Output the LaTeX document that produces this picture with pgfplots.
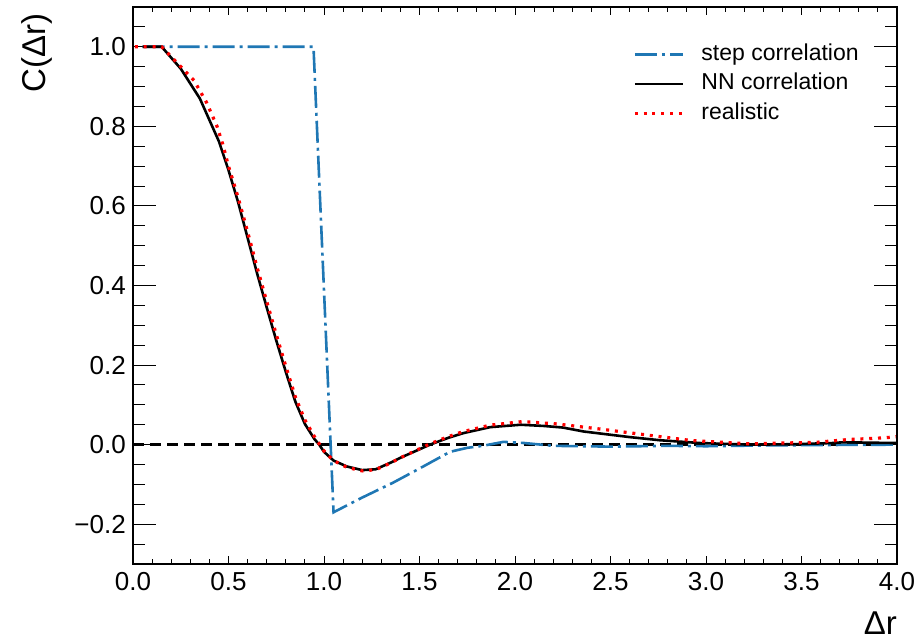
\documentclass[border=0pt]{standalone}
\usepackage{pgfplots}
\pgfplotsset{compat=1.18}
\usepackage{fontspec}
\setmainfont{Liberation Sans}
\definecolor{stepblue}{RGB}{31,119,180}
\begin{document}
\begin{tikzpicture}
\useasboundingbox (0,0) rectangle (921pt,642pt);
% axis holding data, y ticks, labels, legend
\begin{axis}[
  at={(133pt,78pt)}, anchor=south west,
  scale only axis, width=764pt, height=557pt,
  xmin=0, xmax=4, ymin=-0.3, ymax=1.1,
  axis line style={line width=1.4pt},
  tick align=inside,
  tick style={black, line width=1pt},
  xtick=\empty,
  ytick={-0.2,0,0.2,0.4,0.6,0.8,1.0},
  yticklabels={−0.2,0.0,0.2,0.4,0.6,0.8,1.0},
  minor ytick={-0.25,-0.15,-0.1,-0.05,0.05,0.1,0.15,0.25,0.3,0.35,0.45,0.5,0.55,0.65,0.7,0.75,0.85,0.9,0.95,1.05},
  ytick pos=both, yticklabel pos=left,
  major tick length=23pt, minor tick length=12pt,
  yticklabel style={font=\fontsize{26}{30}\selectfont, inner sep=0pt, xshift=-7pt},
  xlabel={Δr}, ylabel={C(Δr)},
  xlabel style={font=\fontsize{33}{38}\selectfont, at={(axis description cs:1,-0.127)}, anchor=base east, inner sep=0pt},
  ylabel style={font=\fontsize{33}{38}\selectfont, at={(axis description cs:-0.1257,0.988)}, anchor=east, inner sep=0pt, rotate=0},
  legend image code/.code={\draw[#1] (0pt,0pt) -- (48pt,0pt);},
  legend cell align=left,
  legend style={at={(axis description cs:0.6545,0.935)}, anchor=north west, draw=none, fill=none,
    font=\fontsize{23}{27}\selectfont, inner sep=0pt, row sep=7.5pt, column sep=17pt,
    nodes={inner sep=0pt, text height=17pt, text depth=5pt}},
]
\addplot[black, line width=2.6pt, dash pattern=on 11pt off 6pt, forget plot] coordinates {(0,0) (4,0)};
\addplot[stepblue, line width=2.6pt, dash pattern=on 22pt off 5pt on 3pt off 5pt] coordinates {
(0.05,1.0) (0.945,1.0) (1.05,-0.17) (1.2,-0.133) (1.36,-0.096) (1.5,-0.06) (1.66,-0.018) (1.75,-0.008) (1.83,-0.003) (1.94,0.007) (2.05,0.004) (2.2,-0.003) (2.5,-0.005) (2.8,-0.003) (3.0,-0.004) (3.3,-0.002) (3.6,-0.001) (4.0,0.0)
};
\addlegendentry{step correlation}
\addplot[black, line width=2.6pt] coordinates {
(0.05,1.0) (0.15,1.0) (0.25,0.945) (0.35,0.87) (0.45,0.762) (0.5,0.69) (0.55,0.61) (0.6,0.52) (0.65,0.43) (0.7,0.345) (0.75,0.262) (0.8,0.183) (0.85,0.108) (0.9,0.052) (0.95,0.014) (0.975,0.0) (1.0,-0.018) (1.05,-0.04) (1.12,-0.055) (1.2,-0.064) (1.27,-0.062) (1.35,-0.045) (1.4,-0.033) (1.48,-0.016) (1.555,0.0) (1.65,0.017) (1.73,0.029) (1.87,0.044) (2.03,0.050) (2.15,0.047) (2.25,0.043) (2.36,0.033) (2.48,0.026) (2.6,0.019) (2.76,0.011) (2.97,0.004) (3.23,0.0) (3.45,0.001) (3.66,0.004) (3.72,0.006) (3.85,0.005) (4.0,0.004)
};
\addlegendentry{NN correlation}
\addplot[red, line width=3.2pt, dash pattern=on 3pt off 5.8pt] coordinates {
(0.01,1.0) (0.15,1.0) (0.23,0.96) (0.32,0.915) (0.385,0.86) (0.44,0.80) (0.47,0.755) (0.5,0.70) (0.55,0.622) (0.6,0.535) (0.65,0.445) (0.7,0.36) (0.75,0.277) (0.8,0.197) (0.85,0.12) (0.9,0.062) (0.95,0.02) (1.0,-0.016) (1.05,-0.04) (1.12,-0.057) (1.2,-0.066) (1.27,-0.063) (1.35,-0.046) (1.4,-0.033) (1.48,-0.015) (1.555,0.002) (1.65,0.02) (1.73,0.033) (1.87,0.049) (2.04,0.058) (2.22,0.052) (2.45,0.039) (2.71,0.023) (2.93,0.010) (3.23,0.002) (3.58,0.006) (3.75,0.013) (3.93,0.017) (4.0,0.02)
};
\addlegendentry{realistic}
\end{axis}
% overlaid axis for x ticks (shorter tick lengths)
\begin{axis}[
  at={(133pt,78pt)}, anchor=south west,
  scale only axis, width=764pt, height=557pt,
  xmin=0, xmax=4, ymin=-0.3, ymax=1.1,
  axis line style={line width=1.4pt},
  tick align=inside,
  tick style={black, line width=1pt},
  ytick=\empty,
  xtick={0,0.5,1,1.5,2,2.5,3,3.5,4},
  xticklabels={0.0,0.5,1.0,1.5,2.0,2.5,3.0,3.5,4.0},
  minor xtick={0.1,0.2,0.3,0.4,0.6,0.7,0.8,0.9,1.1,1.2,1.3,1.4,1.6,1.7,1.8,1.9,2.1,2.2,2.3,2.4,2.6,2.7,2.8,2.9,3.1,3.2,3.3,3.4,3.6,3.7,3.8,3.9},
  xtick pos=both, xticklabel pos=bottom,
  major tick length=8pt, minor tick length=5pt,
  xticklabel style={font=\fontsize{26}{30}\selectfont, inner sep=0pt, yshift=-8pt},
]
\end{axis}
\end{tikzpicture}
\end{document}
